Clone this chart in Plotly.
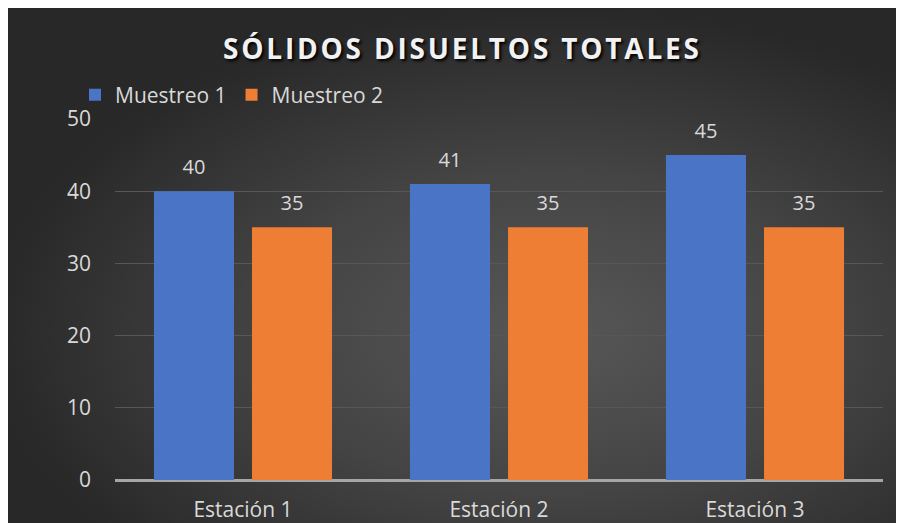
import base64
import plotly.graph_objects as go

categories = ["Estación 1", "Estación 2", "Estación 3"]
muestreo_1 = [40, 41, 45]
muestreo_2 = [35, 35, 35]
series_names = ["Muestreo 1", "Muestreo 2"]
title_text = "SÓLIDOS DISUELTOS TOTALES"
y_ticks = [0, 10, 20, 30, 40, 50]

W, H = 904, 523
L, R, T, B = 107, 29, 111, 51
pw, ph = W - L - R, H - T - B

def px_to_paper_x(px):
    return (px - L) / pw

def px_to_paper_y(py):
    return (H - B - py) / ph

svg = """<svg xmlns='http://www.w3.org/2000/svg' width='904' height='523' viewBox='0 0 904 523' preserveAspectRatio='none'>
<defs><radialGradient id='g' cx='0.6' cy='0.62' r='0.62' gradientUnits='objectBoundingBox'>
<stop offset='0' stop-color='#575757'/><stop offset='0.5' stop-color='#444444'/><stop offset='1' stop-color='#282828'/>
</radialGradient></defs><rect width='904' height='523' fill='url(#g)'/></svg>"""
src = "data:image/svg+xml;base64," + base64.b64encode(svg.encode()).decode()

font_fam = "Open Sans, Liberation Sans, sans-serif"
lab_col = "#d9d9d9"
fs = 21
colors = ["#4a75c7", "#ef7e35"]

fig = go.Figure()
for name, vals, col in zip(series_names, [muestreo_1, muestreo_2], colors):
    fig.add_trace(go.Bar(
        x=categories, y=vals, name=name,
        marker=dict(color=col, line=dict(width=0)),
    ))
for name, vals in zip(series_names, [muestreo_1, muestreo_2]):
    fig.add_trace(go.Scatter(
        x=categories, y=vals, name=name + " etiquetas",
        mode="markers+text", text=[str(v) for v in vals],
        textposition="top center",
        textfont=dict(size=20, color=lab_col, family=font_fam),
        marker=dict(size=18, opacity=0),
        showlegend=False, hoverinfo="skip", cliponaxis=False,
    ))

fig.update_layout(
    width=W, height=H,
    margin=dict(l=L, r=R, t=T, b=B, pad=0, autoexpand=False),
    paper_bgcolor="#333333",
    plot_bgcolor="rgba(0,0,0,0)",
    barmode="group",
    scattermode="group",
    bargap=0.234,
    bargroupgap=0.184,
    title=dict(
        text="\u200a".join(title_text),
        x=453 / W, xanchor="center",
        y=1 - 41 / H, yanchor="middle", yref="container",
        font=dict(size=28, color="#f2f2f2", family=font_fam, weight="bold",
                  shadow="2px 2px 3px #000000"),
    ),
    legend=dict(
        orientation="h",
        x=px_to_paper_x(67), xanchor="left",
        y=px_to_paper_y(87), yanchor="middle",
        font=dict(size=fs, color=lab_col, family=font_fam),
        bgcolor="rgba(0,0,0,0)",
        itemwidth=30,
        tracegroupgap=0,
    ),
    xaxis=dict(
        showgrid=False, showline=False, zeroline=False, automargin=False,
        ticks="", tickfont=dict(size=fs, color=lab_col, family=font_fam),
        ticklabelstandoff=15,
    ),
    yaxis=dict(
        range=[0, 50], tickvals=y_ticks, automargin=False,
        showgrid=True, gridcolor="#575757", gridwidth=1,
        zeroline=True, zerolinecolor="#a6a6a6", zerolinewidth=3,
        showline=False, ticks="",
        tickfont=dict(size=fs, color=lab_col, family=font_fam),
        ticklabelstandoff=23,
    ),
    images=[dict(
        source=src, xref="paper", yref="paper",
        x=px_to_paper_x(0), y=px_to_paper_y(0),
        sizex=px_to_paper_x(W) - px_to_paper_x(0),
        sizey=px_to_paper_y(0) - px_to_paper_y(H),
        xanchor="left", yanchor="top", sizing="stretch", layer="below",
    )],
    showlegend=True,
)

fig.write_html("out.html")
